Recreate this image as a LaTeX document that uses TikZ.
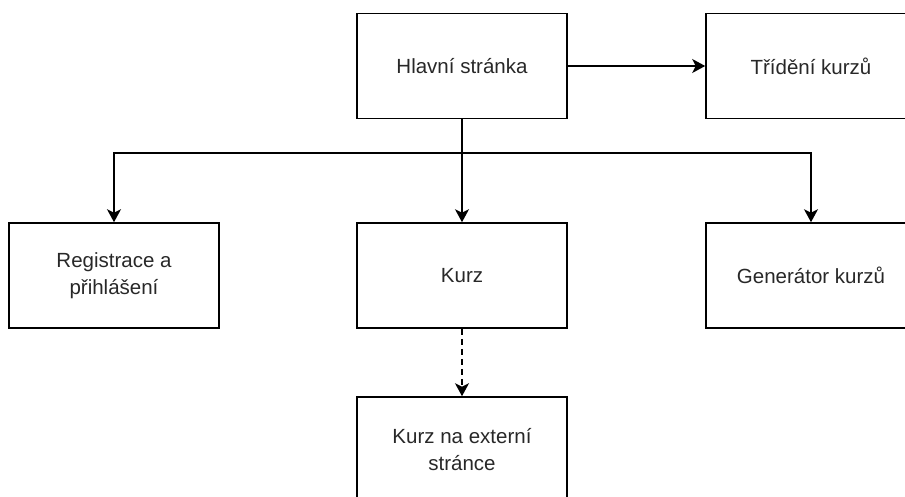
\documentclass[tikz,border=0pt]{standalone}
\usepackage{fontspec}
\setmainfont{Liberation Sans}
\usetikzlibrary{arrows.meta}
\definecolor{txt}{RGB}{40,40,40}
\tikzset{
  box/.style={draw=black, line width=1.6pt, minimum width=210pt, minimum height=105pt,
    inner sep=0pt, align=center, text=txt, font=\fontsize{20.5}{27}\selectfont},
  arr/.style={line width=1.6pt, -{Stealth[length=13pt,width=14pt,inset=3.5pt]}},
  darr/.style={arr, dash pattern=on 6pt off 4pt}
}
\begin{document}
\begin{tikzpicture}[x=1pt,y=-1pt]
\useasboundingbox (0,0) rectangle (905,497);
\node[box] (hl) at (462,66) {Hlavní stránka};
\node[box] (tri) at (811,66) {Třídění kurzů};
\node[box] (reg) at (114,275.5) {Registrace a\\přihlášení};
\node[box] (kurz) at (462,275.5) {Kurz};
\node[box] (gen) at (811,275.5) {Generátor kurzů};
\node[box] (ext) at (462,449.5) {Kurz na externí\\stránce};
\coordinate (j) at (462,153);
\draw[arr] (hl.east) -- (tri.west);
\draw[arr] (hl.south) -- (kurz.north);
\draw[arr] (j) -| (reg.north);
\draw[arr] (j) -| (gen.north);
\draw[darr] (kurz.south) -- (ext.north);
\end{tikzpicture}
\end{document}
